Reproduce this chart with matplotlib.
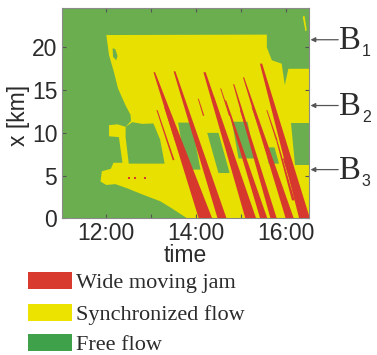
import matplotlib
matplotlib.use('Agg')
import matplotlib.pyplot as plt
from matplotlib.patches import Rectangle

# ---------------- colours ----------------
c_free = '#6aae4f'
c_sync = '#e8e000'
c_jam = '#d6382e'
legend_colors = ['#d93a2e', '#ece400', '#3fa24b']
legend_labels = ['Wide moving jam', 'Synchronized flow', 'Free flow']

# ---------------- axes ----------------
t_range = [11.0, 16.52]          # hours
x_range = [0.0, 24.65]           # km
tick_hours = [12, 13, 14, 15, 16]
tick_labels = ['12:00', '', '14:00', '', '16:00']
ytick_vals = [0, 5, 10, 15, 20]

# ---------------- synchronized-flow outline (time [h], position [km]) ----------------
sync_t = [12.00, 15.58, 15.58, 15.69, 15.91, 15.98, 16.06, 16.60, 16.60, 13.80,
          13.80, 13.45, 13.20, 12.80, 12.47, 12.20, 12.00, 11.87, 11.90, 12.10,
          12.16, 12.36, 12.28, 12.06, 12.06, 12.25, 12.43, 12.55, 12.54, 12.43,
          12.26, 12.17, 12.06]
sync_x = [21.45, 21.50, 20.00, 18.50, 18.10, 15.60, 17.50, 17.50, -0.50, -0.50,
          0.00, 1.20, 2.00, 2.80, 3.50, 4.00, 3.90, 4.30, 5.50, 5.80,
          6.50, 6.50, 9.50, 9.60, 10.90, 11.00, 10.70, 11.40, 12.10, 13.20,
          15.20, 17.10, 19.10]

# small synchronized streak near the top right
streak_t = [16.38, 16.42, 16.47, 16.44]
streak_x = [23.6, 23.7, 22.0, 21.9]

# ---------------- free-flow islands ----------------
free_mid_t = [12.50, 12.43, 12.43, 12.58, 12.80, 13.05, 13.20, 13.30]
free_mid_x = [6.40, 9.50, 10.70, 11.25, 11.05, 11.10, 9.20, 6.40]
free_hole_t = [12.14, 12.20, 12.25, 12.22, 12.15]
free_hole_x = [19.9, 19.8, 19.0, 18.5, 18.9]
free_a_t = [13.60, 13.90, 14.10, 13.78]
free_a_x = [11.20, 11.20, 5.70, 5.70]
free_b_t = [14.25, 14.50, 14.75, 14.50]
free_b_x = [10.00, 10.00, 5.30, 5.30]
free_c_t = [14.80, 15.15, 15.30, 14.95]
free_c_x = [11.30, 11.30, 7.00, 7.00]
free_d_t = [15.55, 15.75, 15.85, 15.62]
free_d_x = [8.30, 8.30, 6.40, 6.40]
free_e_t = [16.12, 16.60, 16.60, 16.20]
free_e_x = [11.10, 11.10, 6.20, 6.20]

# ---------------- wide moving jams ----------------
jam_t0 = [13.07, 13.52, 14.19, 14.66, 14.84, 15.06, 15.45,
          13.13, 13.80, 14.39, 14.99, 15.58, 15.80,
          13.30, 14.05, 15.25, 14.55, 15.95]
jam_x0 = [17.1, 17.2, 17.1, 13.8, 15.7, 16.5, 18.1,
          12.66, 12.66, 14.2, 12.66, 12.66, 9.15,
          13.0, 14.0, 13.0, 15.2, 7.0]
jam_t1 = [14.21, 14.58, 15.22, 15.51, 15.73, 16.09, 16.42,
          13.50, 14.10, 14.69, 15.28, 15.80, 16.17,
          13.55, 14.17, 15.45, 14.75, 16.30]
jam_x1 = [0.0, 0.0, 0.0, 0.0, 0.0, 0.0, 0.0,
          6.81, 7.98, 9.15, 7.98, 9.15, 2.10,
          9.0, 12.0, 10.0, 12.0, 1.5]
jam_w0 = [0.035, 0.04, 0.05, 0.025, 0.025, 0.025, 0.05,
          0.025, 0.025, 0.025, 0.02, 0.02, 0.025,
          0.02, 0.02, 0.02, 0.02, 0.03]
jam_w1 = [0.30, 0.20, 0.24, 0.16, 0.14, 0.18, 0.24,
          0.04, 0.04, 0.04, 0.035, 0.035, 0.06,
          0.03, 0.03, 0.03, 0.03, 0.06]

red_dot_t = [12.50, 12.63, 12.86]
red_dot_x = [4.70, 4.75, 4.70]

# ---------------- bottlenecks ----------------
bottleneck_sub = ['1', '2', '3']
bottleneck_km = [20.9, 13.2, 5.7]

# =====================================================
W, H = 377, 355
fig = plt.figure(figsize=(W / 100, H / 100), dpi=100)
ax = fig.add_axes([61.5 / W, (H - 218.3) / H, 247.5 / W, 210.6 / H])
ax.set_facecolor(c_free)

ax.fill(sync_t, sync_x, color=c_sync, lw=0, zorder=1)
ax.fill(streak_t, streak_x, color=c_sync, lw=0, zorder=1)
for ft, fx in [(free_mid_t, free_mid_x), (free_hole_t, free_hole_x), (free_a_t, free_a_x),
               (free_b_t, free_b_x), (free_c_t, free_c_x), (free_d_t, free_d_x),
               (free_e_t, free_e_x)]:
    ax.fill(ft, fx, color=c_free, lw=0, zorder=2)

for t0, x0, t1, x1, w0, w1 in zip(jam_t0, jam_x0, jam_t1, jam_x1, jam_w0, jam_w1):
    ax.fill([t0 - w0 / 2, t0 + w0 / 2, t1 + w1 / 2, t1 - w1 / 2],
            [x0, x0, x1, x1], color=c_jam, lw=0, zorder=3)
ax.scatter(red_dot_t, red_dot_x, s=4, marker='s', color=c_jam, lw=0, zorder=3)

ax.set_xlim(*t_range)
ax.set_ylim(*x_range)
ax.set_xticks(tick_hours)
ax.set_xticklabels(tick_labels)
ax.set_yticks(ytick_vals)

tick_font = dict(family='Liberation Sans', size=16.5)
for lab in ax.get_xticklabels() + ax.get_yticklabels():
    lab.set_fontfamily('Liberation Sans')
    lab.set_fontsize(16.5)
    lab.set_color('#2b2b2b')
ax.tick_params(direction='in', length=3, width=0.8, color='#555555',
               top=True, right=True, pad=3)
for sp in ax.spines.values():
    sp.set_color('#8a8a8a')
    sp.set_linewidth(0.8)

fig.text(18.5 / W, 1 - 115 / H, 'x [km]', rotation=90, ha='center', va='center',
         color='#2b2b2b', **tick_font)
fig.text(185.5 / W, 1 - 262 / H, 'time', ha='center', va='baseline',
         color='#2b2b2b', **tick_font)

# bottleneck arrows and labels
for sub, km in zip(bottleneck_sub, bottleneck_km):
    ax.annotate('', xy=(1.006, km), xycoords=('axes fraction', 'data'),
                xytext=(1.118, km), textcoords=('axes fraction', 'data'),
                arrowprops=dict(arrowstyle='-|>', color='#555555', lw=0.9,
                                mutation_scale=7, shrinkA=0, shrinkB=0),
                annotation_clip=False)
    ax.annotate('B', xy=(1.0, km), xycoords=('axes fraction', 'data'),
                xytext=(21.6, -6.5), textcoords='offset points', va='baseline',
                ha='left', fontsize=23.5, family='Liberation Serif', color='#2b2b2b',
                annotation_clip=False)
    ax.annotate(sub, xy=(1.0, km), xycoords=('axes fraction', 'data'),
                xytext=(38.0, -12.0), textcoords='offset points', va='baseline',
                ha='left', fontsize=11.5, family='Liberation Sans', color='#2b2b2b',
                annotation_clip=False)

# legend
row_baseline = [288, 320, 350]
for col, lab, yb in zip(legend_colors, legend_labels, row_baseline):
    fig.patches.append(Rectangle((28 / W, (H - yb - 1) / H), 44 / W, 17.5 / H,
                                 transform=fig.transFigure, facecolor=col,
                                 edgecolor='none'))
    fig.text(76 / W, (H - yb) / H, lab, ha='left', va='baseline',
             family='Liberation Serif', fontsize=16, color='#2b2b2b')

fig.savefig('out.png', dpi=100)
